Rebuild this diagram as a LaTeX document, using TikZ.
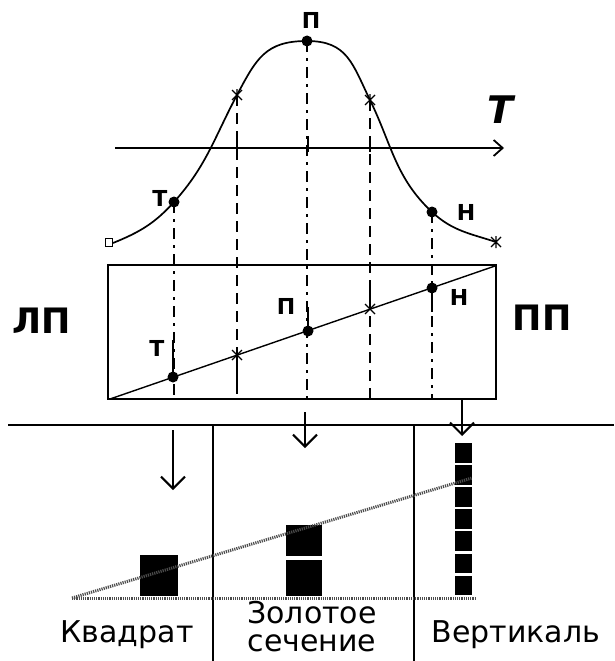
\documentclass[tikz,border=0pt]{standalone}
\usepackage{fontspec}
\setmainfont{DejaVu Sans}
\usetikzlibrary{arrows.meta,positioning,calc}

\tikzset{
  proj/.style={line width=1.3pt, dash pattern=on 11pt off 7pt},
  projdot/.style={line width=1.3pt, dash pattern=on 11pt off 6pt on 3pt off 6pt},
  dotmark/.style={circle, fill=black, inner sep=0pt, minimum size=11pt},
  ptlabel/.style={font=\bfseries\fontsize{22}{22}\selectfont},
  sidelabel/.style={font=\bfseries\fontsize{35}{35}\selectfont},
  caption/.style={font=\fontsize{30}{28}\selectfont, align=center},
  downarrow/.style={line width=2pt, -{Straight Barb[length=12pt,width=24pt,line width=2pt]}},
  hatch/.style={line width=3pt, black!70, dash pattern=on 1.2pt off 1pt},
  block/.style={fill=black}
}

\begin{document}
\begin{tikzpicture}[x=1pt, y=-1pt]
  \useasboundingbox (0,0) rectangle (614,661);

  % The curve
  \coordinate (c0) at (113,243);
  \coordinate (cT) at (174,202);
  \coordinate (c1) at (237,95);
  \coordinate (cP) at (307,41);
  \coordinate (c2) at (370,100);
  \coordinate (cH) at (432,212);
  \coordinate (c3) at (496,242);
  \draw[line width=1.7pt] (c0) to[out=22, in=228] (cT)
    to[out=48, in=242] (c1) to[out=62, in=180, looseness=1.2] (cP)
    to[out=0, in=116, looseness=1.2] (c2) to[out=-64, in=137] (cH)
    to[out=-43, in=162] (c3);
  \draw[line width=1pt, fill=white] ($(c0)+(-8,-5)$) rectangle ($(c0)+(-1,3)$);
  \foreach \c in {c1,c2,c3} {
    \draw[line width=1.3pt] ($(\c)+(-5,-5)$) -- ($(\c)+(5,5)$)
      ($(\c)+(5,-5)$) -- ($(\c)+(-5,5)$) ($(\c)+(0,-6)$) -- ($(\c)+(0,6)$);
  }
  \node[dotmark] at (cT) {};
  \node[dotmark] at (cP) {};
  \node[dotmark] at (cH) {};
  \node[ptlabel] (tT) at (160,198) {Т};
  \node[ptlabel] (tP) at (311,20) {П};
  \node[ptlabel] (tH) at (466,212) {Н};

  % The axis
  \coordinate (ax0) at (115,148);
  \coordinate (ax1) at (504,148);
  \draw[line width=1.8pt, -{Straight Barb[length=9pt,width=16pt,line width=1.8pt]}] (ax0) -- (ax1);
  \node[font=\bfseries\itshape\fontsize{38}{38}\selectfont] (tax) at (500,110) {T};

  % The box
  \node[draw, line width=2pt, minimum width=388pt, minimum height=134pt,
    inner sep=0pt] (box) at (302,332) {};
  \coordinate (d0) at (110,399);
  \coordinate (d1) at (495,266);
  \draw[line width=1.4pt] (d0) -- (d1);
  \coordinate (bT) at (173,377);
  \coordinate (b1) at (237,355);
  \coordinate (bP) at (308,331);
  \coordinate (b2) at (370,309);
  \coordinate (bH) at (432,288);
  \node[sidelabel] (lp) at (42,321) {ЛП};
  \node[sidelabel] (pp) at (542,318) {ПП};
  \node[ptlabel] (bTl) at (157,348) {Т};
  \node[ptlabel] (bPl) at (286,306) {П};
  \node[ptlabel] (bHl) at (459,297) {Н};

  % Projections
  \draw[projdot] (cT) -- (cT |- box.south);
  \draw[proj] (c1) -- (c1 |- box.south);
  \draw[projdot] (cP) -- (cP |- box.south);
  \draw[proj] (c2) -- (c2 |- box.south);
  \draw[projdot] (cH) -- (cH |- box.south);
  \foreach \x in {237,308,370} {
    \draw[line width=1.3pt] (\x,136) -- (\x,152);
  }
  \draw[line width=1.3pt] (173,340) -- (bT);
  \draw[line width=1.3pt] (308,307) -- (bP);
  \draw[line width=1.3pt] (b1) -- (237,385);
  \draw[line width=1.3pt] (370,290) -- (b2);
  \draw[line width=1.3pt] (bH) -- (432,312);
  \foreach \c in {b1,b2} {
    \draw[line width=1.3pt] ($(\c)+(-5,-5)$) -- ($(\c)+(5,5)$)
      ($(\c)+(5,-5)$) -- ($(\c)+(-5,5)$);
  }
  \node[dotmark] at (bT) {};
  \node[dotmark] at (bP) {};
  \node[dotmark] at (bH) {};

  % Lower panel
  \coordinate (h0) at (8,425);
  \coordinate (h1) at (614,425);
  \draw[line width=1.8pt] (h0) -- (h1);
  \coordinate (v1) at (213,425);
  \coordinate (v2) at (414,425);
  \draw[line width=1.5pt] (v1) -- (213,661);
  \draw[line width=1.5pt] (v2) -- (414,661);

  \coordinate (a1) at (173,430);
  \coordinate (a2) at (305,412);
  \coordinate (a3) at (462,398);
  \draw[downarrow] (a1) -- ++(0,60);
  \draw[downarrow] (a2) -- ++(0,36);
  \draw[downarrow] (a3) -- ++(0,38);

  % Blocks
  \fill[block] (140,555) rectangle (178,596);
  \fill[block] (286,525) rectangle (322,556);
  \fill[block] (286,560) rectangle (322,596);
  \foreach \k in {0,...,6} {
    \fill[block] (455,{443+\k*22.1}) rectangle (472,{462.5+\k*22.1});
  }

  % Hatched lines
  \coordinate (g0) at (72,598);
  \coordinate (g1) at (475,598);
  \coordinate (g2) at (472,478);
  \draw[hatch] (g0) -- (g1);
  \draw[hatch] (g0) -- (g2);

  % Captions
  \node[caption, anchor=west] (kv) at (57,635) {Квадрат};
  \node[caption] (zs) at (312,627) {Золотое\\сечение};
  \node[caption, anchor=west] (vr) at (428,635) {Вертикаль};
\end{tikzpicture}
\end{document}
